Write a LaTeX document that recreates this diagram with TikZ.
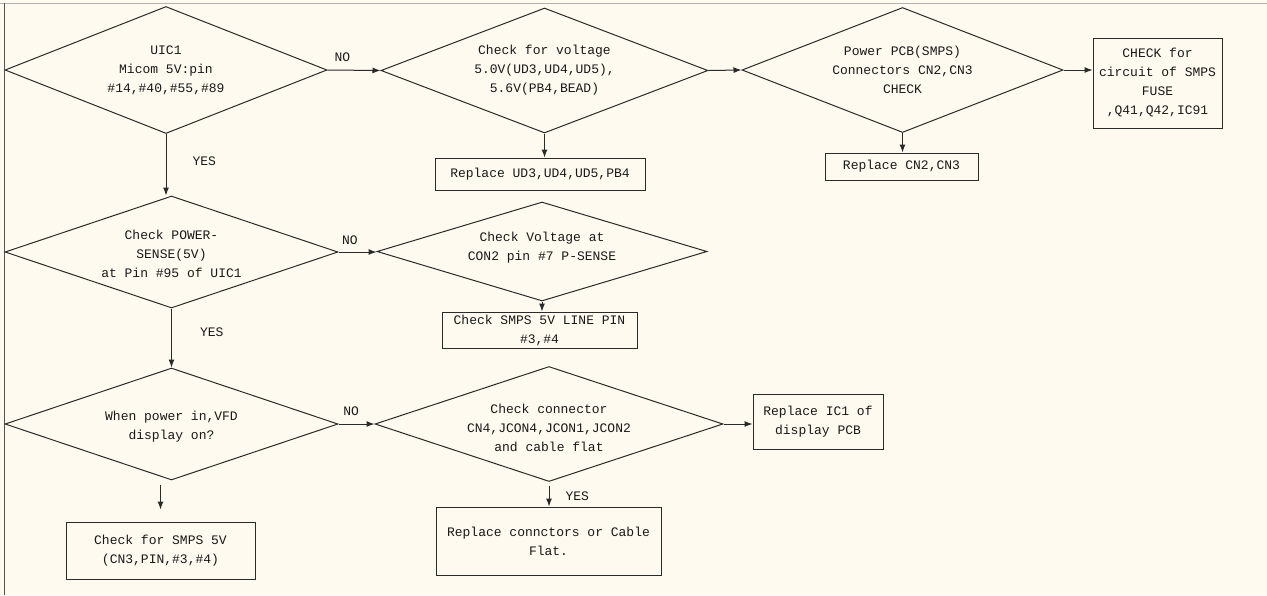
\documentclass[tikz,border=0pt]{standalone}
\usepackage{fontspec}
\newfontfamily\flowfont{Liberation Mono}
\usetikzlibrary{shapes.geometric,arrows.meta}
\definecolor{paper}{HTML}{FEFAF0}
\definecolor{ink}{HTML}{2A2A2A}
\tikzset{
 txt/.style={font=\flowfont\fontsize{13}{19}\selectfont,align=center,text=black!90,inner sep=0pt},
 dec/.style={diamond,draw=ink,line width=1pt,inner sep=0pt,minimum width=#1},
 box/.style={rectangle,draw=ink,line width=1pt,txt,minimum width=#1},
 arr/.style={draw=ink,line width=1pt,-{Latex[length=8pt,width=6pt]}},
 ans/.style={txt}
}
\begin{document}
\begin{tikzpicture}[x=1pt,y=-1pt]
 % page and frame
 \fill[paper](0,0) rectangle (1267,595);
 \useasboundingbox (0,0) rectangle (1267,595);
 \draw[gray!60,line width=0.8pt](0,3)--(1267,3);
 \draw[ink!80,line width=0.8pt](4,3)--(4,595);
 % decisions
 \node[dec=322pt,minimum height=127pt,label={[txt]center:{UIC1\\Micom 5V:pin\\\#14,\#40,\#55,\#89}}] (uic) at (166,70) {};
 \node[dec=327pt,minimum height=125pt,label={[txt]center:{Check for voltage\\5.0V(UD3,UD4,UD5),\\5.6V(PB4,BEAD)}}] (volt) at (544.5,70.5) {};
 \node[dec=321pt,minimum height=125pt,label={[txt]center:{Power PCB(SMPS)\\Connectors CN2,CN3\\CHECK}}] (smps) at (902.5,70) {};
 \node[dec=333pt,minimum height=112pt,label={[txt,yshift=-2pt]center:{Check POWER-\\SENSE(5V)\\at Pin \#95 of UIC1}}] (sense) at (171.5,252) {};
 \node[dec=330pt,minimum height=99pt,label={[txt,yshift=4pt]center:{Check Voltage at\\CON2 pin \#7 P-SENSE}}] (con2) at (542,251.5) {};
 \node[dec=333pt,minimum height=112pt,label={[txt,yshift=-3pt]center:{When power in,VFD\\display on?}}] (vfd) at (171.5,424) {};
 \node[dec=348pt,minimum height=115pt,label={[txt,yshift=-4pt]center:{Check connector\\CN4,JCON4,JCON1,JCON2\\and cable flat}}] (cn4) at (549,424) {};
 % actions
 \node[box=210pt,minimum height=32pt] (repud) at (540,174) {Replace UD3,UD4,UD5,PB4};
 \node[box=153pt,minimum height=27pt] (repcn) at (901.5,166.5) {Replace CN2,CN3};
 \node[box=129pt,minimum height=90pt] (fuse) at (1157.5,83) {CHECK for\\circuit of SMPS\\FUSE\\,Q41,Q42,IC91};
 \node[box=195pt,minimum height=36pt] (line) at (539.5,330) {Check SMPS 5V LINE PIN\\\#3,\#4};
 \node[box=189pt,minimum height=57pt] (cn3) at (160.5,550.5) {Check for SMPS 5V\\(CN3,PIN,\#3,\#4)};
 \node[box=130pt,minimum height=55pt] (ic1) at (818,421.5) {Replace IC1 of\\display PCB};
 \node[box=225pt,minimum height=68pt] (flat) at (548.5,541) {Replace connctors or Cable\\Flat.};
 % connectors
 \draw[arr](uic.east)--node[ans,above=8pt,pos=0.28]{NO}(volt.west);
 \draw[arr](volt.east)--(smps.west);
 \draw[arr](smps.east)--(smps.east-|fuse.west);
 \draw[arr](volt.south)--(volt.south|-repud.north);
 \draw[arr](smps.south)--(smps.south|-repcn.north);
 \draw[arr](uic.south)--node[ans,right=26pt,pos=0.45]{YES}(uic.south|-sense.north);
 \draw[arr](sense.east)--node[ans,above=7pt,pos=0.3]{NO}(sense.east-|con2.west);
 \draw[arr](con2.south)--(con2.south|-line.north);
 \draw[arr](sense.south)--node[ans,right=28pt,pos=0.4]{YES}(sense.south|-vfd.north);
 \draw[arr](vfd.east)--node[ans,above=8pt,pos=0.35]{NO}(vfd.east-|cn4.west);
 \draw[arr](cn4.east)--(cn4.east-|ic1.west);
 \draw[arr]([yshift=37pt]cn3.north)--([yshift=12pt]cn3.north);
 \draw[arr]([yshift=-4pt]cn4.south)--node[ans,right=16pt,pos=0.5]{YES}(cn4.south|-flat.north);
\end{tikzpicture}
\end{document}
